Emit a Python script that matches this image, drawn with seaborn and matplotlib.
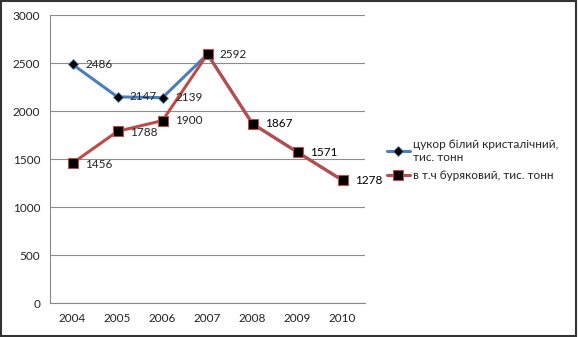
import matplotlib
matplotlib.use("Agg")
import matplotlib.pyplot as plt
import seaborn as sns
import pandas as pd
from matplotlib.patches import Rectangle
from matplotlib.ticker import FixedLocator

years = ["2004", "2005", "2006", "2007", "2008", "2009", "2010"]
white_sugar = [2486, 2147, 2139, 2592, 1867, 1571, 1278]
beet_sugar = [1456, 1788, 1900, 2592, 1867, 1571, 1278]
series_names = ["цукор білий кристалічний,\nтис. тонн", "в т.ч буряковий, тис. тонн"]

sns.set_theme(style="white")
plt.rcParams["font.family"] = ["Lato", "DejaVu Sans"]

pos = list(range(len(years)))
df = pd.DataFrame({
    "pos": pos * 2,
    "value": white_sugar + beet_sugar,
    "series": [series_names[0]] * len(years) + [series_names[1]] * len(years),
})

fig = plt.figure(figsize=(5.78, 3.37), dpi=100)
ax = fig.add_axes([50 / 578, 1 - 303 / 337, 315 / 578, 288 / 337])

blue = "#4a7ebb"
red = "#be4b48"
sns.lineplot(data=df[df.series == series_names[0]], x="pos", y="value", ax=ax,
             color=blue, lw=2.2, marker="D", markersize=5.5, markerfacecolor="black",
             markeredgecolor=blue, markeredgewidth=0.6, label=series_names[0])
sns.lineplot(data=df[df.series == series_names[1]], x="pos", y="value", ax=ax,
             color=red, lw=2.2, marker="s", markersize=7.5, markerfacecolor="black",
             markeredgecolor=red, markeredgewidth=0.8, label=series_names[1])

for i, v in enumerate(white_sugar[:4]):
    ax.annotate(str(v), (i, v), xytext=(9, 0), textcoords="offset points",
                va="center", ha="left", fontsize=8.5, color="#222222")
for i, v in enumerate(beet_sugar):
    if i == 3:
        continue
    dy = -1 if i in (0, 1) else 0
    ax.annotate(str(v), (i, v), xytext=(9, dy), textcoords="offset points",
                va="center", ha="left", fontsize=8.5,
                color="#000000" if i >= 4 else "#222222")

ax.set_xlim(-0.5, 6.5)
ax.set_ylim(0, 3000)
ax.set_xticks(pos)
ax.set_xticklabels(years)
ax.xaxis.set_minor_locator(FixedLocator([p - 0.5 for p in range(8)]))
ax.tick_params(axis="x", which="major", length=0, pad=7, labelsize=8.5, labelcolor="#222222")
ax.tick_params(axis="x", which="minor", length=4, color="#888888", direction="out")
ax.set_yticks([0, 500, 1000, 1500, 2000, 2500, 3000])
ax.tick_params(axis="y", length=4, color="#888888", direction="out", pad=3,
               labelsize=8.5, labelcolor="#222222")
ax.grid(axis="y", color="#8c8c8c", lw=0.8)
ax.set_axisbelow(True)
ax.set_xlabel("")
ax.set_ylabel("")
for s in ["top", "right"]:
    ax.spines[s].set_visible(False)
for s in ["left", "bottom"]:
    ax.spines[s].set_color("#888888")
    ax.spines[s].set_linewidth(0.8)

ax.legend(loc="center left", bbox_to_anchor=(376 / 578, 1 - 160 / 337),
          bbox_transform=fig.transFigure, frameon=False, fontsize=8.5,
          handlelength=2.0, handletextpad=0.2, labelspacing=0.6)

fig.patches.append(Rectangle((0.002, 0.003), 0.994, 0.994, transform=fig.transFigure,
                             fill=False, edgecolor="#333333", lw=1.5))

fig.savefig("out.png", dpi=100)
